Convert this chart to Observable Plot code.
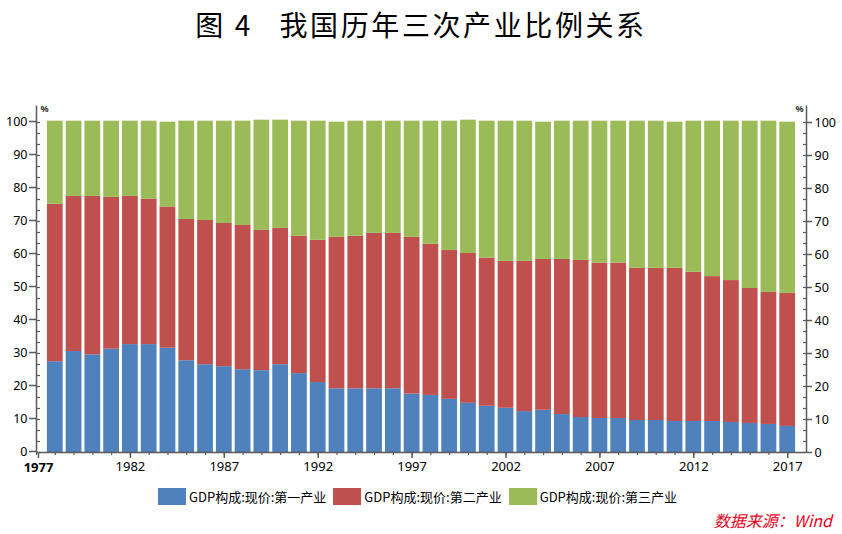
<!DOCTYPE html>
<html>
<head>
<meta charset="utf-8">
<script src="https://cdn.jsdelivr.net/npm/d3@7"></script>
<script src="https://cdn.jsdelivr.net/npm/@observablehq/plot@0.6"></script>
<style>
  body { margin: 0; background: #fff; }
  #wrap { position: relative; width: 842px; height: 534px; overflow: hidden; font-family: "Noto Sans", "Noto Sans CJK SC", sans-serif; }
  #title { position: absolute; left: 0; top: 4px; width: 842px; text-align: center; font-family: "Noto Sans CJK SC", sans-serif; font-size: 28px; letter-spacing: 2.6px; line-height: 40px; color: #000; white-space: pre; }
  #chart { position: absolute; left: 0; top: 0; }
  #legend { position: absolute; left: 158px; top: 487px; display: flex; align-items: center; font-family: "Noto Sans CJK SC", sans-serif; font-size: 13px; color: #000; }
  #legend .item { display: flex; align-items: center; margin-right: 7px; }
  #legend .sw { width: 28px; height: 17px; margin-right: 3px; }
  #source { position: absolute; right: 10px; top: 508px; font-family: "Noto Sans CJK SC", sans-serif; font-size: 16px; font-style: italic; color: #e8001c; line-height: 24px; }
</style>
</head>
<body>
<div id="wrap">
  <div id="title"></div>
  <div id="chart"></div>
  <div id="legend"></div>
  <div id="source"></div>
</div>
<script>
const titleText = "图 4   我国历年三次产业比例关系";
const sourceText = "数据来源：Wind";
const years = [1978,1979,1980,1981,1982,1983,1984,1985,1986,1987,1988,1989,1990,1991,1992,1993,1994,1995,1996,1997,
               1998,1999,2000,2001,2002,2003,2004,2005,2006,2007,2008,2009,2010,2011,2012,2013,2014,2015,2016,2017];
const primary = [27.5,30.6,29.6,31.3,32.7,32.7,31.6,27.8,26.6,26.0,25.1,24.8,26.6,23.9,21.2,19.3,19.3,19.3,19.3,17.7,
                 17.3,16.1,14.9,14.0,13.4,12.4,12.8,11.5,10.6,10.3,10.3,9.7,9.7,9.4,9.4,9.4,9.1,8.8,8.5,7.9];
const secondary = [47.7,47.0,48.0,46.0,44.9,44.1,42.8,42.8,43.7,43.4,43.7,42.5,41.3,41.6,43.1,45.9,46.2,47.1,47.1,47.5,
                   45.8,45.1,45.4,44.9,44.5,45.5,45.7,47.0,47.6,47.1,47.1,46.1,46.1,46.4,45.2,43.9,43.0,40.9,40.0,40.3];
const tertiary = [25.2,22.8,22.8,23.1,22.8,23.6,25.7,29.8,30.1,31.0,31.6,33.4,32.8,34.9,36.1,34.9,34.9,34.0,34.0,35.2,
                  37.3,39.2,40.4,41.5,42.5,42.5,41.6,41.9,42.2,43.0,43.0,44.6,44.6,44.3,45.8,47.1,48.3,50.7,51.9,51.9];
const seriesNames = ["GDP构成:现价:第一产业", "GDP构成:现价:第二产业", "GDP构成:现价:第三产业"];
const seriesColors = ["#4f81bd", "#c0504d", "#9bbb59"];
const xMajorTicks = [1977,1982,1987,1992,1997,2002,2007,2012,2017];
const xMinorTicks = [1977,1978,1979,1980,1981,1982,1983,1984,1985,1986,1987,1988,1989,1990,1991,1992,1993,1994,1995,1996,1997,
                     1998,1999,2000,2001,2002,2003,2004,2005,2006,2007,2008,2009,2010,2011,2012,2013,2014,2015,2016,2017];
const yMajorTicks = [0,10,20,30,40,50,60,70,80,90,100];
const yMinorTicks = d3.range(0, 100.001, 10 / 3);
const xDomain = [1977, 2018];
const yDomain = [0, 105];
const unitLabel = "%";

document.getElementById("title").textContent = titleText;
document.getElementById("source").textContent = sourceText;

const seriesValues = [primary, secondary, tertiary];
const rows = [];
years.forEach((yr, j) => {
  seriesNames.forEach((s, i) => rows.push({year: yr, series: s, value: seriesValues[i][j]}));
});

const axisColor = "#5a5a5a";
const chart = Plot.plot({
  width: 842,
  height: 480,
  marginTop: 105.5,
  marginBottom: 28,
  marginLeft: 36,
  marginRight: 36,
  style: {fontFamily: '"Noto Sans", sans-serif', fontSize: "13px", color: "#000", background: "transparent"},
  x: {domain: xDomain, axis: null, label: null},
  y: {domain: yDomain, axis: null, label: null},
  color: {domain: seriesNames, range: seriesColors},
  marks: [
    Plot.rectY(rows, {x1: d => d.year - 0.5, x2: d => d.year + 0.5, y: "value", fill: "series", insetLeft: 1.5, insetRight: 1.5}),
    // axis lines
    Plot.ruleX([xDomain[0]], {y1: yDomain[0], y2: yDomain[1], stroke: axisColor, strokeWidth: 1.5}),
    Plot.ruleX([xDomain[1]], {y1: yDomain[0], y2: yDomain[1], stroke: axisColor, strokeWidth: 1.5}),
    Plot.ruleY([0], {x1: xDomain[0], x2: xDomain[1], stroke: axisColor, strokeWidth: 1.5}),
    // left axis
    Plot.axisY({anchor: "left", label: null, ticks: yMajorTicks, tickSize: 7, tickPadding: 2, stroke: axisColor, strokeWidth: 1.5, fill: "#000", fontSize: 12.5, dy: -1}),
    Plot.axisY({anchor: "left", label: null, ticks: yMinorTicks, tickSize: -4, tickFormat: () => "", stroke: axisColor, strokeWidth: 1.2}),
    // right axis
    Plot.axisY({anchor: "right", label: null, ticks: yMajorTicks, tickSize: 5, tickPadding: 3, stroke: axisColor, strokeWidth: 1.5, fill: "#000", fontSize: 12.5}),
    Plot.axisY({anchor: "right", label: null, ticks: yMinorTicks, tickSize: -4, tickFormat: () => "", stroke: axisColor, strokeWidth: 1.2}),
    // bottom axis
    Plot.axisX({anchor: "bottom", label: null, ticks: xMinorTicks, tickSize: 3, tickFormat: () => "", stroke: axisColor, strokeWidth: 1.2}),
    Plot.axisX({anchor: "bottom", label: null, ticks: xMajorTicks.slice(1), tickSize: 6, tickPadding: 3, tickFormat: d => String(d), stroke: axisColor, strokeWidth: 1.5, fill: "#000"}),
    Plot.axisX({anchor: "bottom", label: null, ticks: xMajorTicks.slice(0, 1), tickSize: 6, tickPadding: 4, tickFormat: d => String(d), stroke: axisColor, strokeWidth: 1.5, fill: "#000", fontWeight: "bold", dx: 2}),
    // unit labels
    Plot.text([unitLabel], {frameAnchor: "top-left", dx: 4, dy: 0, textAnchor: "start", fontSize: 9, fontWeight: "bold", fill: "#333"}),
    Plot.text([unitLabel], {frameAnchor: "top-right", dx: -3, dy: 0, textAnchor: "end", fontSize: 9, fontWeight: "bold", fill: "#333"})
  ]
});
document.getElementById("chart").appendChild(chart);

const legend = document.getElementById("legend");
seriesNames.forEach((s, i) => {
  const item = document.createElement("div");
  item.className = "item";
  const sw = document.createElement("div");
  sw.className = "sw";
  sw.style.background = seriesColors[i];
  const t = document.createElement("span");
  t.textContent = s;
  item.appendChild(sw);
  item.appendChild(t);
  legend.appendChild(item);
});
</script>
</body>
</html>
